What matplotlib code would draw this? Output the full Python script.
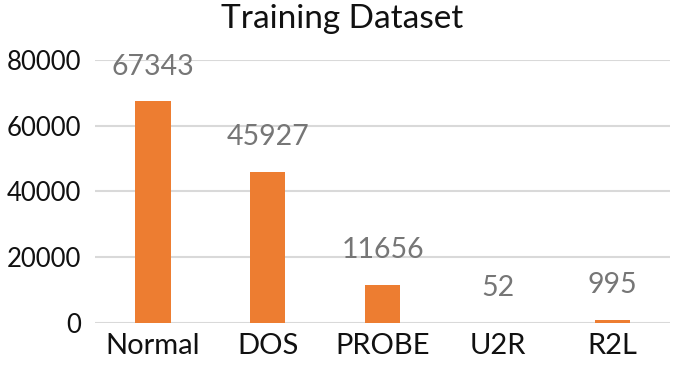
import matplotlib
matplotlib.use("Agg")
import matplotlib.pyplot as plt

categories = ["Normal", "DOS", "PROBE", "U2R", "R2L"]
values = [67343, 45927, 11656, 52, 995]
yticks = [0, 20000, 40000, 60000, 80000]

plt.rcParams['font.family'] = ['Lato', 'DejaVu Sans']

fig = plt.figure(figsize=(6.85, 3.65), dpi=100)
ax = fig.add_axes([0.139, 0.115, 0.839, 0.721])
x = range(len(categories))
ax.bar(x, values, width=0.31, color="#ED7D31", zorder=3)
for xi, v in zip(x, values):
    ax.annotate(str(v), (xi, v), xytext=(0, 25), textcoords="offset points",
                ha="center", va="center", fontsize=20.5, color="#767676")
ax.set_xlim(-0.5, len(categories) - 0.5)
ax.set_ylim(0, 80000)
ax.set_yticks(yticks)
ax.set_yticklabels([str(t) for t in yticks], fontsize=18.5, color="#111111")
ax.set_xticks(list(x))
ax.set_xticklabels(categories, fontsize=21, color="#111111")
ax.grid(axis="y", color="#d9d9d9", linewidth=1.5, zorder=0)
for s in ax.spines.values():
    s.set_visible(False)
ax.tick_params(length=0, pad=7)
ax.tick_params(axis="y", pad=10)
fig.text(0.5, 0.948, "Training Dataset", ha="center", va="center", fontsize=24, color="#111111")
fig.savefig("out.png", dpi=100)
